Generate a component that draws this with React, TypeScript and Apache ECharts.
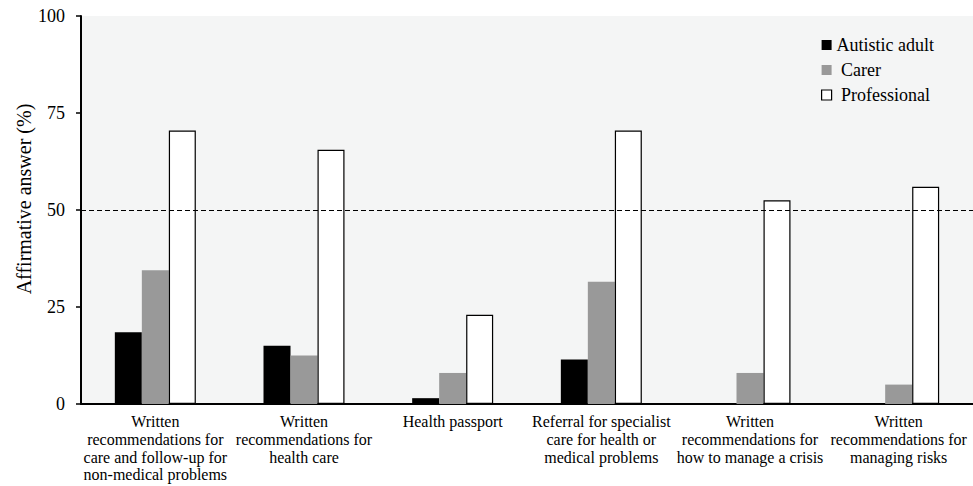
import React, { useEffect, useRef } from "react";
import * as echarts from "echarts";

const categories = [
  "Written\nrecommendations for\ncare and follow-up for\nnon-medical problems",
  "Written\nrecommendations for\nhealth care",
  "Health passport",
  "Referral for specialist\ncare for health or\nmedical problems",
  "Written\nrecommendations for\nhow to manage a crisis",
  "Written\nrecommendations for\nmanaging risks",
];
const autisticAdult = [18.5, 15, 1.5, 11.5, 0, 0];
const carer = [34.5, 12.5, 8, 31.5, 8, 5];
const professional = [70.5, 65.5, 23, 70.5, 52.5, 56];
const yTicks = [0, 25, 50, 75, 100];
const yAxisTitle = "Affirmative answer (%)";

const FONT = "Liberation Serif";

export default function App() {
  const ref = useRef<HTMLDivElement>(null);
  useEffect(() => {
    if (!ref.current) return;
    const chart = echarts.init(ref.current, undefined, { renderer: "svg" });
    chart.setOption({
      animation: false,
      backgroundColor: "#ffffff",
      textStyle: { fontFamily: FONT, color: "#000" },
      grid: {
        left: 81,
        right: 0,
        top: 16,
        bottom: 82,
        containLabel: false,
        outerBoundsMode: "none",
        show: true,
        backgroundColor: "#f4f5f5",
        borderWidth: 0,
      },
      graphic: [
        {
          type: "text",
          x: 24,
          y: 199,
          rotation: Math.PI / 2,
          style: {
            text: yAxisTitle,
            fontFamily: FONT,
            fontSize: 20,
            fill: "#000",
            align: "center",
            verticalAlign: "middle",
          },
        },
      ],
      legend: {
        orient: "vertical",
        left: 816,
        top: 31,
        itemWidth: 10,
        itemHeight: 10,
        itemGap: 7,
        textStyle: { fontFamily: FONT, fontSize: 18, color: "#000" },
        data: [
          { name: "Autistic adult", icon: "rect", itemStyle: { color: "#000" } },
          { name: "Carer", icon: "rect", itemStyle: { color: "#999999" } },
          {
            name: "Professional",
            icon: "rect",
            itemStyle: { color: "#fff", borderColor: "#000", borderWidth: 1.2 },
          },
        ],
        formatter: (n: string) => (n === "Autistic adult" ? n : " " + n),
      },
      xAxis: {
        type: "category",
        data: categories,
        axisLine: { show: true, lineStyle: { color: "#000", width: 2 } },
        axisTick: { show: false },
        axisLabel: {
          interval: 0,
          fontFamily: FONT,
          fontSize: 16,
          color: "#000",
          lineHeight: 17.7,
          margin: 9,
        },
      },
      yAxis: {
        type: "value",
        min: 0,
        max: 100,
        interval: 25,
        axisLine: { show: true, lineStyle: { color: "#000", width: 2 } },
        axisTick: { show: true, length: 5, lineStyle: { color: "#000", width: 1.5 } },
        splitLine: { show: false },
        axisLabel: {
          fontFamily: FONT,
          fontSize: 18,
          color: "#000",
          margin: 16,
          formatter: (v: number) => (yTicks.includes(v) ? String(v) : ""),
        },
      },
      series: [
        {
          name: "Autistic adult",
          type: "bar",
          data: autisticAdult,
          barWidth: 27,
          barGap: "0%",
          itemStyle: { color: "#000" },
          markLine: {
            silent: true,
            symbol: "none",
            label: { show: false },
            lineStyle: { color: "#000", type: [5, 3], width: 1 },
            data: [{ yAxis: 50 }],
          },
        },
        {
          name: "Carer",
          type: "bar",
          data: carer,
          barWidth: 27,
          barGap: "0%",
          itemStyle: { color: "#999999" },
        },
        {
          name: "Professional",
          type: "bar",
          data: professional,
          barWidth: 27,
          barGap: "0%",
          itemStyle: { color: "#fff", borderColor: "#000", borderWidth: 1.2 },
        },
      ],
    });
    return () => chart.dispose();
  }, []);
  return (
    <div
      ref={ref}
      style={{ position: "fixed", left: 0, top: 0, width: 973, height: 486 }}
    />
  );
}
